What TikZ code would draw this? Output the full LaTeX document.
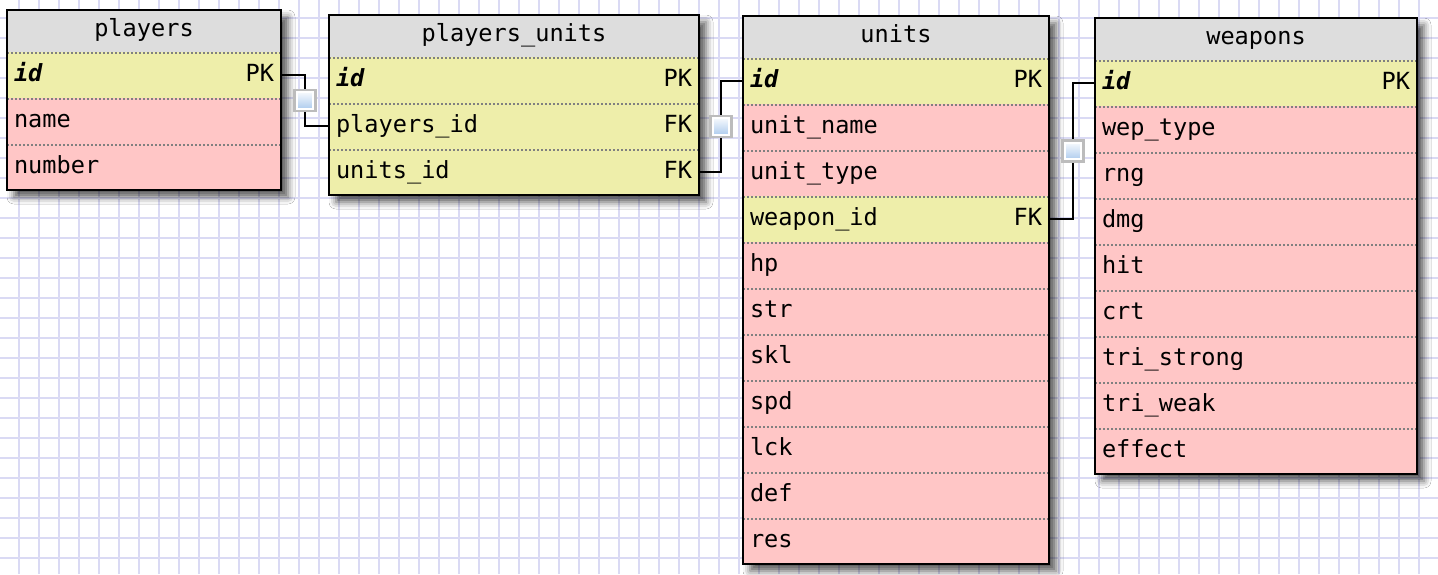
\documentclass[tikz,border=0pt]{standalone}
\usepackage{fontspec}
\setmonofont{DejaVu Sans Mono}
\usetikzlibrary{positioning, calc, backgrounds, shadows.blur}
\definecolor{cHead}{RGB}{221,221,221}
\definecolor{cKey}{RGB}{238,238,170}
\definecolor{cField}{RGB}{255,198,198}
\definecolor{cGrid}{RGB}{218,218,244}
\definecolor{cSep}{RGB}{128,128,128}
\definecolor{cIcon}{RGB}{188,188,188}
\definecolor{cSky}{RGB}{165,198,236}
\tikzset{
	tblhead/.style  ={rectangle, minimum height=21pt, inner xsep=3.5pt, inner ysep=0pt, outer sep=0pt, text height=8.5pt, text depth=3.5pt, align=center, fill=cHead},
	tblrow/.style   ={rectangle, minimum height=23pt, inner xsep=3.5pt, inner ysep=0pt, outer sep=0pt, text height=8.5pt, text depth=2.5pt, align=left,
		path picture={\draw[sepline] (path picture bounding box.north west) -- (path picture bounding box.north east);}},
	keyrow/.style   ={tblrow, fill=cKey},
	fieldrow/.style ={tblrow, fill=cField},
	sepline/.style  ={cSep, line width=1.8pt, dash pattern=on 1pt off 1pt},
	tblframe/.style ={draw=black, line width=1.2pt},
	tblshadow/.style={blur shadow={shadow xshift=3.5pt, shadow yshift=-3.5pt, shadow blur radius=3.5pt, shadow opacity=65}},
	relline/.style  ={draw=black, line width=1pt},
	relicon/.style  ={rectangle, minimum size=10.5pt, inner sep=0pt, draw=cIcon, line width=1.3pt, fill=white,
		path picture={\shade[top color=white, bottom color=cSky] ($(path picture bounding box.south west)+(1.8pt,1.8pt)$) rectangle ($(path picture bounding box.north east)+(-1.8pt,-1.8pt)$);}},
	gridline/.style ={cGrid, line width=0.85pt},
}
\begin{document}
\begin{tikzpicture}[x=0.5pt, y=-0.5pt, font=\ttfamily\fontsize{11.8}{13}\selectfont]
	\useasboundingbox (0,0) rectangle (1438,574);
	% squared paper
	\begin{scope}[on background layer]
		\fill[white] (0,0) rectangle (1438,574);
		\foreach \gx in {19,39,...,1419} \draw[gridline] (\gx,0) -- (\gx,574);
		\foreach \gy in {18,38,...,558} \draw[gridline] (0,\gy) -- (1438,\gy);
	\end{scope}

	% players
	\node[tblhead, minimum width=137pt, anchor=north west] (pl-head) at (7,10) {players};
	\node[keyrow, text width=130pt, below=0pt of pl-head] (pl-id) {\textbf{\textit{id}}\hfill PK};
	\node[fieldrow, text width=130pt, below=0pt of pl-id] (pl-name) {name};
	\node[fieldrow, text width=130pt, below=0pt of pl-name] (pl-number) {number};

	% players_units
	\node[tblhead, minimum width=185pt, anchor=north west] (pu-head) at (329,15) {players\_units};
	\node[keyrow, text width=178pt, below=0pt of pu-head] (pu-id) {\textbf{\textit{id}}\hfill PK};
	\node[keyrow, text width=178pt, below=0pt of pu-id] (pu-pid) {players\_id\hfill FK};
	\node[keyrow, text width=178pt, below=0pt of pu-pid] (pu-uid) {units\_id\hfill FK};

	% units
	\node[tblhead, minimum width=153pt, anchor=north west] (un-head) at (743,16) {units};
	\node[keyrow, text width=146pt, below=0pt of un-head] (un-id) {\textbf{\textit{id}}\hfill PK};
	\node[fieldrow, text width=146pt, below=0pt of un-id] (un-name) {unit\_name};
	\node[fieldrow, text width=146pt, below=0pt of un-name] (un-type) {unit\_type};
	\node[keyrow, text width=146pt, below=0pt of un-type] (un-wid) {weapon\_id\hfill FK};
	\foreach \f [remember=\f as \prev (initially wid)] in {hp,str,skl,spd,lck,def,res}
		\node[fieldrow, text width=146pt, below=0pt of un-\prev] (un-\f) {\f};

	% weapons
	\node[tblhead, minimum width=161pt, anchor=north west] (wp-head) at (1095,18) {weapons};
	\node[keyrow, text width=154pt, below=0pt of wp-head] (wp-id) {\textbf{\textit{id}}\hfill PK};
	\foreach \f/\t [remember=\f as \prev (initially id)] in {wtype/wep\_type, rng/rng, dmg/dmg, hit/hit, crt/crt, tstrong/tri\_strong, tweak/tri\_weak, effect/effect}
		\node[fieldrow, text width=154pt, below=0pt of wp-\prev] (wp-\f) {\t};

	% frames and shadows
	\begin{scope}[on background layer]
		\path[tblshadow] (pl-head.north west) rectangle (pl-number.south east);
		\path[tblshadow] (pu-head.north west) rectangle (pu-uid.south east);
		\path[tblshadow] (un-head.north west) rectangle (un-res.south east);
		\path[tblshadow] (wp-head.north west) rectangle (wp-effect.south east);
	\end{scope}
	\draw[tblframe] (pl-head.north west) rectangle (pl-number.south east);
	\draw[tblframe] (pu-head.north west) rectangle (pu-uid.south east);
	\draw[tblframe] (un-head.north west) rectangle (un-res.south east);
	\draw[tblframe] (wp-head.north west) rectangle (wp-effect.south east);

	% relations
	\draw[relline] (pl-id.east) -- ++(24,0) |- node[relicon, pos=0.25] {} (pu-pid.west);
	\draw[relline] (pu-uid.east) -- ++(22,0) |- node[relicon, pos=0.25] {} (un-id.west);
	\draw[relline] (un-wid.east) -- ++(24,0) |- node[relicon, pos=0.25] {} (wp-id.west);
\end{tikzpicture}
\end{document}
